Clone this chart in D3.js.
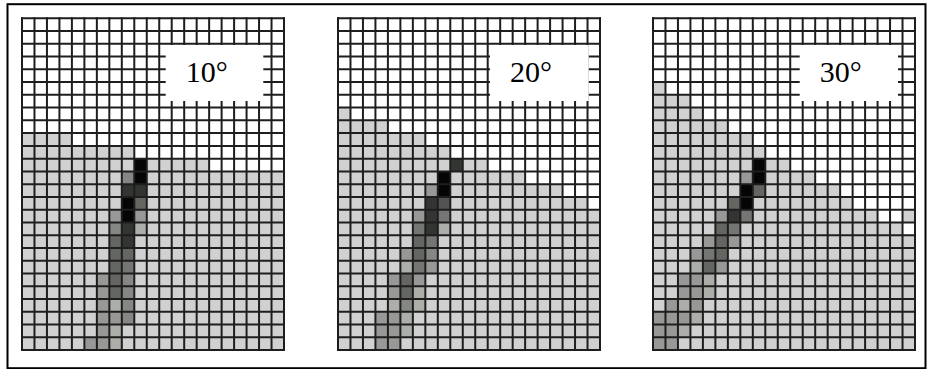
<!DOCTYPE html>
<html>
<head>
<meta charset="utf-8">
<script src="https://cdn.jsdelivr.net/npm/d3@7"></script>
<style>
  html, body { margin: 0; padding: 0; background: #fff; }
  svg { display: block; }
</style>
</head>
<body>
<div id="chart"></div>
<script>
// Panel titles (insertion angle)
const angleLabels = ['10°', '20°', '30°'];

// Cell codes: '.' white, 'g' background gray, '7'..'1' darker grays, '0' black
const grid10 = [
  '.....................',
  '.....................',
  '.....................',
  '.....................',
  '.....................',
  '.....................',
  '.....................',
  '.....................',
  '.....................',
  'gggg.................',
  'ggggggggg............',
  'ggggggggg0ggggg......',
  'gggggggg50ggggggggggg',
  'gggggggg11ggggggggggg',
  'gggggggg03ggggggggggg',
  'ggggggg606ggggggggggg',
  'ggggggg517ggggggggggg',
  'ggggggg31gggggggggggg',
  'ggggggg33gggggggggggg',
  'ggggggg34gggggggggggg',
  'gggggg635gggggggggggg',
  'gggggg635gggggggggggg',
  'gggggg675gggggggggggg',
  'gggggg665gggggggggggg',
  'gggggg67ggggggggggggg',
  'ggggg667ggggggggggggg'
];

const grid20 = [
  '.....................',
  '.....................',
  '.....................',
  '.....................',
  '.....................',
  '.....................',
  '.....................',
  'g....................',
  'gggg.................',
  'ggggggg..............',
  'ggggggggg............',
  'ggggggggg1gg.........',
  'gggggggg0gggggg......',
  'ggggggg60ggggggggg...',
  'ggggggg12ggggggggggg.',
  'gggggg614gggggggggggg',
  'gggggg417gggggggggggg',
  'gggggg34ggggggggggggg',
  'ggggg635ggggggggggggg',
  'ggggg746ggggggggggggg',
  'gggg636gggggggggggggg',
  'gggg637gggggggggggggg',
  'gggg757gggggggggggggg',
  'ggg667ggggggggggggggg',
  'ggg667ggggggggggggggg',
  'ggg66gggggggggggggggg'
];

const grid30 = [
  '.....................',
  '.....................',
  '.....................',
  '.....................',
  '.....................',
  'g....................',
  'ggg..................',
  'gggg.................',
  'gggggg...............',
  'gggggggg.............',
  'ggggggggg............',
  'gggggggg0gg..........',
  'ggggggg60gggg........',
  'ggggggg03gggggg......',
  'gggggg30gggggggg.....',
  'ggggg614gggggggggg..g',
  'ggggg34ggggggggggggg.',
  'gggg636gggggggggggggg',
  'ggg643ggggggggggggggg',
  'ggg736ggggggggggggggg',
  'gg667gggggggggggggggg',
  'gg667gggggggggggggggg',
  'g676ggggggggggggggggg',
  '6667ggggggggggggggggg',
  '667gggggggggggggggggg',
  '66ggggggggggggggggggg'
];

const grids = [grid10, grid20, grid30];

const shadeCodes = ['.', 'g', '7', '6', '5', '4', '3', '2', '1', '0'];
const shadeColors = ['#ffffff', '#d1d1d1', '#abaea9', '#989997', '#858784', '#747673',
                     '#646662', '#535353', '#333533', '#050505'];

// layout
const W = 927, H = 369;
const panelLeft = [22, 338, 653];
const panelWidth = 262;
const gridTop = 18.3, gridBottom = 350;
const labelBox = [[143.7, 241.3], [152, 250.7], [146.7, 245]]; // relative to panel left
const boxTop = 45, boxBottom = 101;

const nRows = grid10.length;
const nCols = grid10[0].length;

const color = d3.scaleOrdinal().domain(shadeCodes).range(shadeColors);

const svg = d3.select('#chart')
  .append('svg')
  .attr('width', W)
  .attr('height', H);

svg.append('rect')
  .attr('width', W)
  .attr('height', H)
  .attr('fill', '#fff');

const y = d3.scaleBand()
  .domain(d3.range(nRows))
  .range([gridTop, gridBottom]);

grids.forEach((rowsData, p) => {
  const x = d3.scaleBand()
    .domain(d3.range(nCols))
    .range([panelLeft[p], panelLeft[p] + panelWidth]);

  const cells = [];
  rowsData.forEach((line, r) => {
    line.split('').forEach((code, c) => cells.push({ r, c, code }));
  });

  const g = svg.append('g').attr('class', 'panel');

  // cells
  g.selectAll('rect.cell')
    .data(cells)
    .enter()
    .append('rect')
    .attr('class', 'cell')
    .attr('x', d => x(d.c))
    .attr('y', d => y(d.r))
    .attr('width', x.bandwidth())
    .attr('height', y.bandwidth())
    .attr('fill', d => color(d.code));

  // grid lines
  const xEdges = d3.range(nCols).map(c => x(c)).concat([x.range()[1]]);
  const yEdges = d3.range(nRows).map(r => y(r)).concat([y.range()[1]]);

  g.selectAll('line.v')
    .data(xEdges)
    .enter()
    .append('line')
    .attr('x1', d => d).attr('x2', d => d)
    .attr('y1', gridTop - 1).attr('y2', gridBottom + 1)
    .attr('stroke', '#1e1e1e')
    .attr('stroke-width', 2);

  g.selectAll('line.h')
    .data(yEdges)
    .enter()
    .append('line')
    .attr('y1', d => d).attr('y2', d => d)
    .attr('x1', x.range()[0] - 1).attr('x2', x.range()[1] + 1)
    .attr('stroke', '#1e1e1e')
    .attr('stroke-width', 2);

  // label box
  const bx0 = panelLeft[p] + labelBox[p][0];
  const bx1 = panelLeft[p] + labelBox[p][1];
  g.append('rect')
    .attr('x', bx0)
    .attr('y', boxTop)
    .attr('width', bx1 - bx0)
    .attr('height', boxBottom - boxTop)
    .attr('fill', '#fff');

  g.append('text')
    .attr('x', bx0 + 20)
    .attr('y', 82)
    .style('font-family', '"Liberation Serif", "Times New Roman", serif')
    .style('font-size', '30px')
    .style('fill', '#000')
    .text(angleLabels[p]);
});

// outer frame
svg.append('rect')
  .attr('x', 7.5)
  .attr('y', 4.2)
  .attr('width', 918)
  .attr('height', 364)
  .attr('fill', 'none')
  .attr('stroke', '#000')
  .attr('stroke-width', 2);
</script>
</body>
</html>
